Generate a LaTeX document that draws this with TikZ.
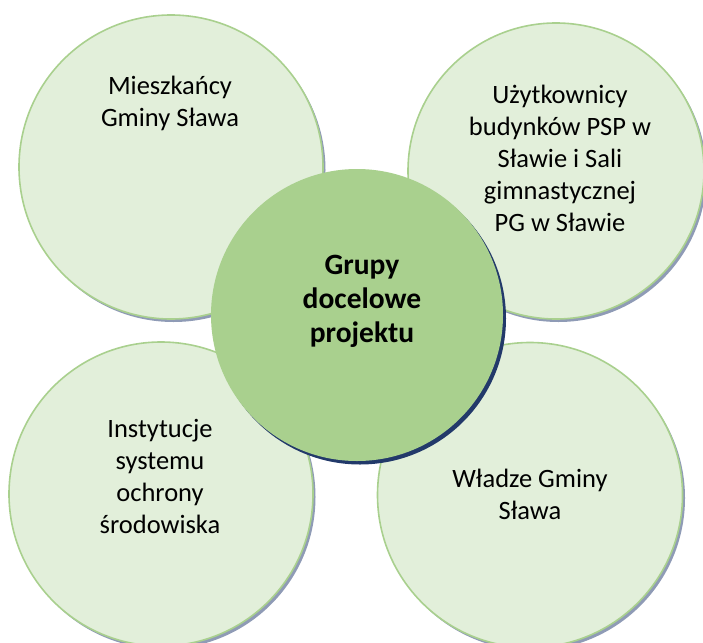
\documentclass[tikz,border=0pt]{standalone}
\usepackage{fontspec}
\setmainfont{Carlito}
\usetikzlibrary{shadows}
\definecolor{lightleaf}{HTML}{E2EFDA}
\definecolor{leaf}{HTML}{A9D08E}
\definecolor{greyshade}{HTML}{8F9BB6}
\definecolor{navyshade}{HTML}{22396A}
\tikzset{
  group/.style={circle,draw=leaf,line width=1.6pt,fill=lightleaf,inner sep=0pt,
    general shadow={fill=greyshade,shadow xshift=2.5pt,shadow yshift=-3pt}},
  core/.style={circle,fill=leaf,inner sep=0pt,
    general shadow={fill=navyshade,shadow xshift=3pt,shadow yshift=-3.5pt}},
  label/.style={align=center,font=\fontsize{26.5}{32}\selectfont}
}
\begin{document}
\begin{tikzpicture}[x=1pt,y=-1pt]
\useasboundingbox (0,0) rectangle (703,642);
\node[group,minimum size=304pt] (mieszkancy) at (171,167) {};
\node[group,minimum size=296pt] (uzytkownicy) at (556,171) {};
\node[group,minimum size=304pt] (instytucje) at (161,494) {};
\node[group,minimum size=305pt] (wladze) at (530,495) {};
\node[core,minimum size=292pt] (grupy) at (357,315) {};
\node[label] (t1) at (170,103) {Mieszkańcy\\Gminy Sława};
\node[label] (t2) at (560,158) {Użytkownicy\\budynków PSP w\\Sławie i Sali\\gimnastycznej\\PG w Sławie};
\node[label,font=\fontsize{29.5}{34}\selectfont\bfseries] (t0) at (362,301) {Grupy\\docelowe\\projektu};
\node[label] (t3) at (160,476) {Instytucje\\systemu\\ochrony\\środowiska};
\node[label] (t4) at (530,494) {Władze Gminy\\Sława};
\end{tikzpicture}
\end{document}
